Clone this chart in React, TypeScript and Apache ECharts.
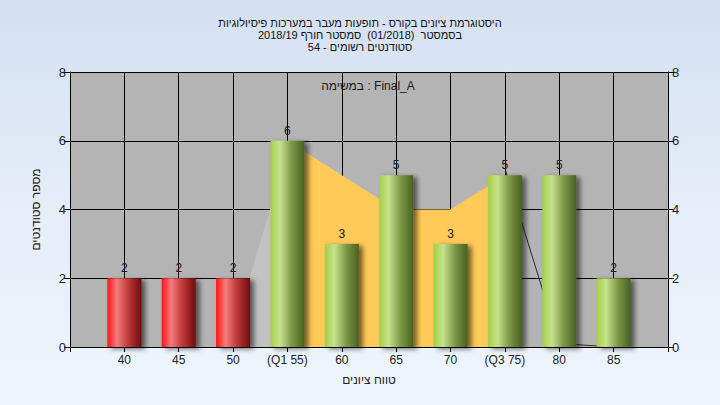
import React, { useEffect, useRef } from "react";
import * as echarts from "echarts";

// ---- data ----
const titleLines = [
  "היסטוגרמת ציונים בקורס - תופעות מעבר במערכות פיסיולוגיות",
  "בסמסטר  (01/2018)  סמסטר חורף 2018/19",
  "סטודנטים רשומים - 54",
];
const assignmentLabel = "במשימה : Final_A";
const xAxisName = "טווח ציונים";
const yAxisName = "מספר סטודנטים";

const grades = [40, 45, 50, 55, 60, 65, 70, 75, 80, 85];
const gradeLabels = ["40", "45", "50", "(Q1 55)", "60", "65", "70", "(Q3 75)", "80", "85"];
const studentCounts = [2, 2, 2, 6, 3, 5, 3, 5, 5, 2];
const failingGrades = [40, 45, 50];

// band between Q1 and Q3
const iqrX = [55, 60, 65, 70, 75];
const iqrY = [6, 5, 4, 4, 5];
// lower tail (light area) and upper tail (thin line)
const lowTailX = [50, 55];
const lowTailY = [0.4, 5.7];
const highTailX = [75, 80, 85];
const highTailY = [5.2, 0.1, 0];

const yTicks = [0, 2, 4, 6, 8];

const FONT = "'Liberation Sans', Arial, sans-serif";

const redGradient = new echarts.graphic.LinearGradient(0, 0, 1, 0, [
  { offset: 0, color: "#ff1414" },
  { offset: 0.28, color: "#f47c7c" },
  { offset: 0.6, color: "#c23a3a" },
  { offset: 1, color: "#6a0e0e" },
]);
const greenGradient = new echarts.graphic.LinearGradient(0, 0, 1, 0, [
  { offset: 0, color: "#a2cf45" },
  { offset: 0.28, color: "#c8e28e" },
  { offset: 0.62, color: "#7c9a48" },
  { offset: 1, color: "#48601f" },
]);

function labelFor(v: number): string {
  const i = grades.indexOf(v);
  return i >= 0 ? gradeLabels[i] : "";
}

export default function App() {
  const ref = useRef<HTMLDivElement>(null);

  useEffect(() => {
    document.body.style.margin = "0";
    if (!ref.current) return;
    const chart = echarts.init(ref.current, undefined, { renderer: "svg" });

    const yAxisCommon = {
      type: "value" as const,
      min: yTicks[0],
      max: yTicks[yTicks.length - 1],
      interval: 2,
      axisLine: { show: true, lineStyle: { color: "#000", width: 1 } },
      axisTick: { show: true, length: 6, lineStyle: { color: "#000" } },
      axisLabel: { color: "#222", fontSize: 13, fontFamily: FONT, margin: 4 },
    };

    chart.setOption({
      animation: false,
      title: {
        text: titleLines.join("\n"),
        left: "center",
        top: 12,
        textStyle: {
          fontSize: 11,
          lineHeight: 12,
          fontWeight: "normal",
          color: "#111",
          fontFamily: FONT,
        },
      },
      graphic: [
        {
          type: "text",
          x: 368,
          y: 86,
          style: {
            text: assignmentLabel,
            fontSize: 12,
            fontFamily: FONT,
            fill: "#1a1a1a",
            align: "center",
            verticalAlign: "middle",
          },
          z: 10,
        },
      ],
      grid: {
        left: 70,
        right: 52,
        top: 72,
        bottom: 58,
        show: true,
        backgroundColor: "#b4b4b4",
        borderWidth: 0,
      },
      xAxis: {
        type: "value",
        min: 35,
        max: 90,
        interval: 5,
        axisLine: { onZero: false, lineStyle: { color: "#000", width: 1 } },
        axisTick: { show: true, length: 5, lineStyle: { color: "#000" } },
        axisLabel: {
          formatter: (v: number) => labelFor(v),
          color: "#222",
          fontSize: 12,
          fontFamily: FONT,
          margin: 7,
        },
        splitLine: { show: true, lineStyle: { color: "#000", width: 1 } },
        name: xAxisName,
        nameLocation: "middle",
        nameGap: 27,
        nameTextStyle: { color: "#222", fontSize: 12, fontFamily: FONT },
      },
      yAxis: [
        {
          ...yAxisCommon,
          position: "left",
          splitLine: { show: true, lineStyle: { color: "#000", width: 1 } },
          name: yAxisName,
          nameLocation: "middle",
          nameGap: 28,
          nameTextStyle: { color: "#222", fontSize: 12, fontFamily: FONT },
        },
        {
          ...yAxisCommon,
          position: "right",
          splitLine: { show: false },
        },
      ],
      series: [
        {
          type: "line",
          data: lowTailX.map((x, i) => [x, lowTailY[i]]),
          symbol: "none",
          lineStyle: { width: 0 },
          areaStyle: { color: "#c2c2c2", opacity: 1 },
          z: 1,
          silent: true,
        },
        {
          type: "line",
          data: iqrX.map((x, i) => [x, iqrY[i]]),
          symbol: "none",
          lineStyle: { width: 0 },
          areaStyle: { color: "#ffca57", opacity: 1 },
          z: 2,
          silent: true,
        },
        {
          type: "line",
          data: highTailX.map((x, i) => [x, highTailY[i]]),
          symbol: "none",
          lineStyle: { width: 1, color: "#2a2a2a" },
          z: 3,
          silent: true,
        },
        {
          type: "bar",
          barWidth: 34,
          z: 5,
          data: grades.map((g, i) => ({
            value: [g, studentCounts[i]],
            itemStyle: {
              color: failingGrades.includes(g) ? redGradient : greenGradient,
              shadowColor: "rgba(0,0,0,0.55)",
              shadowBlur: 5,
              shadowOffsetX: 4,
              shadowOffsetY: 2,
            },
          })),
          label: {
            show: true,
            position: "top",
            distance: 4,
            color: "#14142e",
            fontSize: 12,
            fontFamily: FONT,
            formatter: (p: any) => String(p.value[1]),
          },
        },
      ],
    });

    return () => chart.dispose();
  }, []);

  return (
    <div
      ref={ref}
      style={{
        width: 720,
        height: 405,
        background: "linear-gradient(to bottom, #d4e0f1 0%, #e4edf8 50%, #eef5fd 100%)",
      }}
    />
  );
}
